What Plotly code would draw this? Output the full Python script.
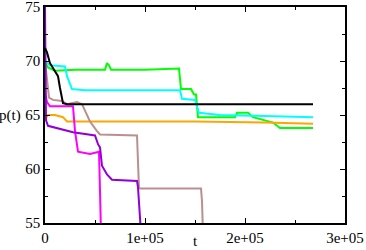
import plotly.graph_objects as go

# step-like trajectories
green_t = [0, 3e3, 10e3, 30e3, 60e3, 62e3, 64e3, 66e3, 100e3, 134e3, 136e3, 146e3, 149e3, 151e3, 153e3,
           190e3, 192e3, 203e3, 208e3, 228e3, 235e3, 268e3]
green_p = [69.9, 69.4, 69.1, 69.2, 69.2, 69.8, 69.6, 69.2, 69.2, 69.3, 67.4, 67.4, 66.9, 66.9, 64.8,
           64.8, 65.2, 65.2, 64.8, 64.3, 63.8, 63.8]

cyan_t = [0, 5e3, 20e3, 22e3, 27e3, 40e3, 80e3, 120e3, 135e3, 137e3, 150e3, 154e3, 175e3, 220e3, 268e3]
cyan_p = [70.0, 69.6, 69.5, 68.6, 67.4, 67.3, 67.3, 67.3, 67.3, 66.5, 66.4, 65.2, 65.0, 64.9, 64.8]

orange_t = [0, 3e3, 10e3, 18e3, 22e3, 60e3, 150e3, 220e3, 268e3]
orange_p = [64.6, 65.0, 65.0, 64.8, 64.4, 64.4, 64.4, 64.3, 64.2]

brown_t = [0, 2e3, 4e3, 8e3, 17e3, 22e3, 32e3, 37e3, 40e3, 43e3, 45e3, 52e3, 55e3, 92e3, 93e3, 94e3,
           156e3, 157e3, 158e3]
brown_p = [70.0, 68.1, 66.6, 66.4, 66.3, 66.0, 66.2, 66.0, 65.4, 64.9, 64.4, 63.5, 63.2, 63.1, 60.5, 58.2,
           58.2, 57.0, 54.0]

magenta_t = [0, 2e3, 5e3, 28e3, 30e3, 33e3, 45e3, 54e3, 55e3, 56e3]
magenta_p = [67.0, 66.2, 65.8, 65.8, 63.5, 61.6, 61.4, 61.6, 58.0, 54.0]

purple_t = [0, 1e3, 3e3, 15e3, 28e3, 50e3, 53e3, 55e3, 57e3, 62e3, 67e3, 92e3, 93e3, 95e3, 96e3]
purple_p = [75.0, 64.5, 64.0, 63.7, 63.4, 63.1, 62.3, 62.0, 60.3, 59.5, 59.0, 58.9, 58.3, 55.5, 54.0]

black_t = [0, 2e3, 5e3, 10e3, 13e3, 15e3, 17e3, 18e3, 22e3, 60e3, 120e3, 200e3, 268e3]
black_p = [71.2, 70.8, 69.8, 69.1, 68.6, 67.5, 66.6, 66.1, 66.0, 66.0, 66.0, 66.0, 66.0]

x_ticks = [0, 1e5, 2e5, 3e5]
x_labels = ["0", "1e+05", "2e+05", "3e+05"]
y_ticks = [55, 60, 65, 70, 75]

series = [
    (green_t, green_p, "#00ff00"),
    (cyan_t, cyan_p, "#00ffff"),
    (orange_t, orange_p, "#ffa500"),
    (brown_t, brown_p, "#bc8f8f"),
    (magenta_t, magenta_p, "#ff00ff"),
    (purple_t, purple_p, "#9400d3"),
    (black_t, black_p, "#000000"),
]

serif = "Liberation Serif, Times New Roman, Times, serif"
label_font = dict(family=serif, size=15, color="black")

fig = go.Figure()
for t, p, col in series:
    fig.add_trace(go.Scatter(x=t, y=p, mode="lines", line=dict(color=col, width=2), showlegend=False))

axis_style = dict(
    showline=True, linecolor="black", linewidth=1.5, mirror="allticks",
    ticks="inside", ticklen=5, tickcolor="black", tickwidth=1,
    showgrid=False, zeroline=False, automargin=False, ticklabeloverflow="allow",
    tickfont=label_font,
)

fig.update_xaxes(range=[0, 3e5], tickvals=x_ticks, ticktext=x_labels,
                 minor=dict(ticks="inside", ticklen=3, dtick=5e4, tickcolor="black"),
                 **axis_style)
fig.update_yaxes(range=[55, 75], tickvals=y_ticks,
                 minor=dict(ticks="inside", ticklen=3, dtick=2.5, tickcolor="black"),
                 **axis_style)

fig.add_annotation(text="p(t)", xref="paper", yref="paper", x=-0.075, y=0.5,
                   xanchor="right", yanchor="middle", showarrow=False, font=label_font)
fig.add_annotation(text="t", xref="paper", yref="paper", x=0.5, y=-0.129,
                   xanchor="center", yanchor="bottom", showarrow=False, font=label_font)

fig.update_layout(
    width=366, height=250,
    margin=dict(l=45, r=21, t=7, b=27),
    paper_bgcolor="white", plot_bgcolor="white",
    font=dict(family=serif),
)

# drop the page's default body margin so the figure sits at the top-left corner
fig.write_html("out.html", config={"displayModeBar": False},
               post_script="document.body.style.margin='0';document.body.style.padding='0';")
